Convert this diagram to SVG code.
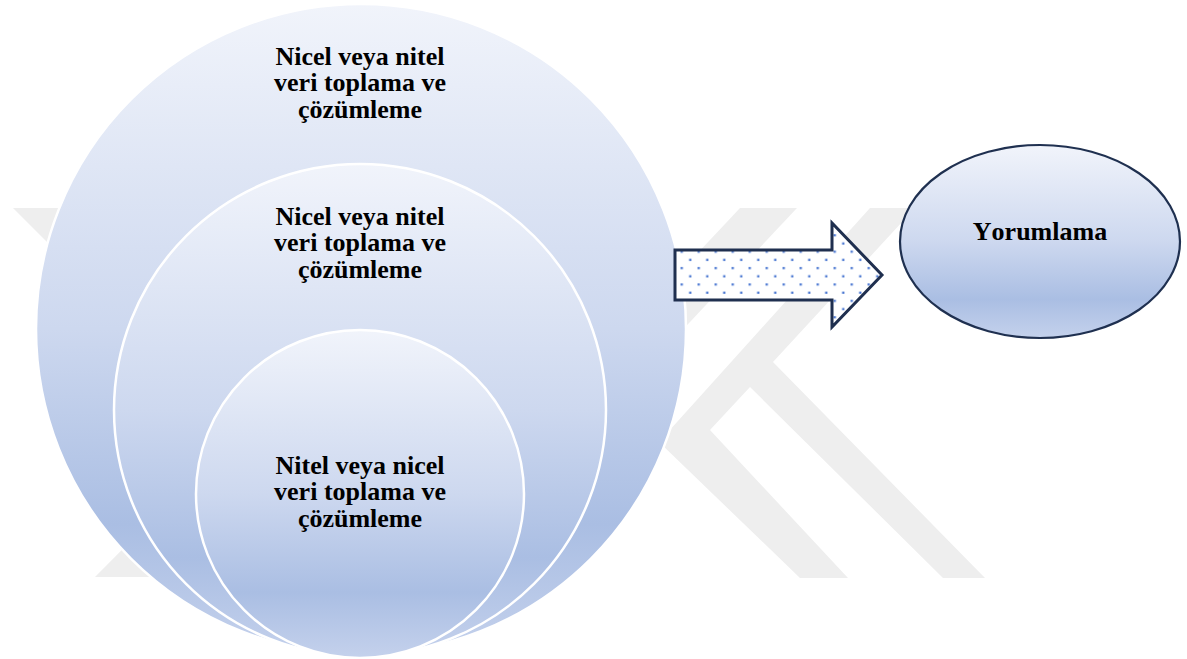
<svg xmlns="http://www.w3.org/2000/svg" width="1187" height="659" viewBox="0 0 1187 659">
  <defs>
    <linearGradient id="blueFade" x1="0" y1="0" x2="0" y2="1">
      <stop offset="0" stop-color="#f1f4fb"/>
      <stop offset="0.5" stop-color="#cdd8ef"/>
      <stop offset="0.8" stop-color="#aabee3"/>
      <stop offset="1" stop-color="#c4d1ec"/>
    </linearGradient>
    <pattern id="dots" patternUnits="userSpaceOnUse" x="677.45" y="247.6" width="17" height="16.4">
      <rect x="3.2" y="3.0" width="2.2" height="2.2" fill="#3f6fcf"/>
      <rect x="11.7" y="11.2" width="2.2" height="2.2" fill="#3f6fcf"/>
    </pattern>
    <style>
      .ring { fill: url(#blueFade); stroke: #ffffff; stroke-width: 2.5; }
      .label { font-family: "Liberation Serif", "Times New Roman", serif; font-weight: bold; font-size: 26px; fill: #000000; text-anchor: middle; font-kerning: none; }
      .mark { fill: #eeeeee; }
    </style>
  </defs>

  <rect width="1187" height="659" fill="#ffffff"/>

  <!-- faint background emblem -->
  <g id="emblem">
    <polygon class="mark" points="13,208 70,208 295,433 152,577 95,577 238,433"/>
    <polygon class="mark" points="740,208 797,208 598,420 541,420"/>
    <polygon class="mark" points="870,208 915,208 773,362 985,578 943,578 750,387 710,430 848,578 800,578 659,442"/>
  </g>

  <g id="outer-circle">
    <circle class="ring" cx="361" cy="329" r="325"/>
    <text class="label" x="360" y="64.5">Nicel veya nitel</text>
    <text class="label" x="360" y="91">veri toplama ve</text>
    <text class="label" x="360" y="117.5">çözümleme</text>
  </g>

  <g id="middle-circle">
    <circle class="ring" cx="360" cy="410" r="246"/>
    <text class="label" x="360" y="224.5">Nicel veya nitel</text>
    <text class="label" x="360" y="251">veri toplama ve</text>
    <text class="label" x="360" y="277.5">çözümleme</text>
  </g>

  <g id="inner-circle">
    <circle class="ring" cx="360" cy="494" r="164"/>
    <text class="label" x="360" y="473.5">Nitel veya nicel</text>
    <text class="label" x="360" y="500">veri toplama ve</text>
    <text class="label" x="360" y="526.5">çözümleme</text>
  </g>

  <g id="connectors">
    <polygon points="675,250 832,250 832,223 882,275 832,327 832,300 675,300" fill="#ffffff"/>
    <polygon points="675,250 832,250 832,223 882,275 832,327 832,300 675,300" fill="url(#dots)" stroke="#1f2f4f" stroke-width="3" stroke-linejoin="miter"/>
  </g>

  <g id="yorumlama">
    <ellipse cx="1040" cy="241.5" rx="140" ry="96.5" fill="url(#blueFade)" stroke="#1f3050" stroke-width="2.2"/>
    <text class="label" x="1040" y="240">Yorumlama</text>
  </g>
</svg>
